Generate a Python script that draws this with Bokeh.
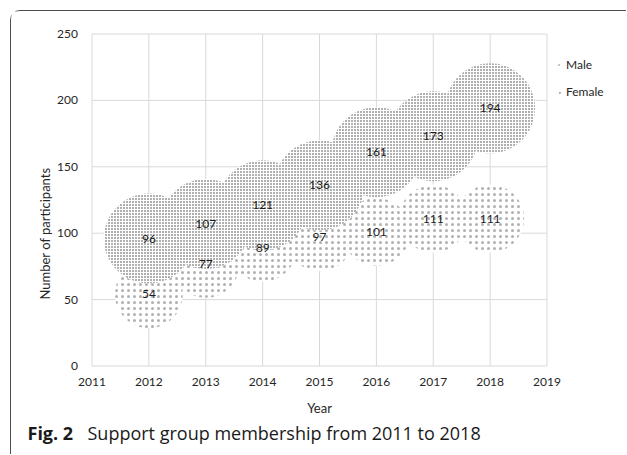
from bokeh.plotting import figure
from bokeh.models import (Range1d, FixedTicker, Legend, LegendItem, Label,
                          ColumnDataSource)
from bokeh.core.properties import value
from bokeh.embed import file_html
from bokeh.resources import INLINE

years = [2012, 2013, 2014, 2015, 2016, 2017, 2018]
male = [54, 77, 89, 97, 101, 111, 111]
female = [96, 107, 121, 136, 161, 173, 194]
x_ticks = [2011, 2012, 2013, 2014, 2015, 2016, 2017, 2018, 2019]
y_ticks = [0, 50, 100, 150, 200, 250]
series_names = ["Male", "Female"]
caption_bold = "Fig. 2"
caption_text = "Support group membership from 2011 to 2018"

FONT = "Lato"
CAP_FONT = "Open Sans"

# --- layout (pixels inside the figure canvas) ---
W, H = 616, 444
PX_LEFT, PX_RIGHT = 80.5, 535.5     # where first / last x tick sit
PY_TOP, PY_BOTTOM = 22.5, 354.5     # where last / first y tick sit
kx = (PX_RIGHT - PX_LEFT) / (x_ticks[-1] - x_ticks[0])
ky = (PY_BOTTOM - PY_TOP) / (y_ticks[-1] - y_ticks[0])
x_start = x_ticks[0] - PX_LEFT / kx
x_end = x_ticks[0] + (W - PX_LEFT) / kx
y_end = y_ticks[-1] + PY_TOP / ky
y_start = y_ticks[0] - (H - PY_BOTTOM) / ky

p = figure(width=W, height=H, output_backend="svg", toolbar_location=None,
           x_range=Range1d(x_start, x_end), y_range=Range1d(y_start, y_end),
           min_border_left=0, min_border_right=0, min_border_top=0,
           min_border_bottom=0)
p.margin = (10, 0, 0, 10)
p.styles = {"border-left": "1px solid #4d4d4d",
            "border-top": "1px solid #4d4d4d",
            "border-top-left-radius": "10px"}
p.outline_line_color = None
p.background_fill_color = "white"
p.border_fill_color = "white"
p.xgrid.visible = False
p.ygrid.visible = False

for ax in (p.xaxis, p.yaxis):
    ax.axis_line_color = None
    ax.major_tick_line_color = None
    ax.minor_tick_line_color = None
    ax.major_label_text_font = FONT
    ax.major_label_text_font_size = "12px"
    ax.major_label_text_color = "#262626"
    ax.axis_label_text_font = FONT
    ax.axis_label_text_font_size = "13px"
    ax.axis_label_text_font_style = "normal"
    ax.axis_label_text_color = "#262626"

p.xaxis.fixed_location = y_ticks[0]
p.yaxis.fixed_location = x_ticks[0]
p.xaxis.ticker = FixedTicker(ticks=x_ticks)
p.yaxis.ticker = FixedTicker(ticks=y_ticks)
p.xaxis.axis_label = "Year"
p.yaxis.axis_label = "Number of participants"
p.xaxis.major_label_standoff = 6
p.yaxis.major_label_standoff = 8
p.xaxis.axis_label_standoff = 10
p.yaxis.axis_label_standoff = 2

# gridlines at the tick values, bounded by the first/last ticks
n_x, n_y = len(x_ticks), len(y_ticks)
p.segment(x0=x_ticks, y0=[y_ticks[0]] * n_x, x1=x_ticks, y1=[y_ticks[-1]] * n_x,
          line_color="#d9d9d9", line_width=1)
p.segment(x0=[x_ticks[0]] * n_y, y0=y_ticks, x1=[x_ticks[-1]] * n_y, y1=y_ticks,
          line_color="#d9d9d9", line_width=1)

src_m = ColumnDataSource(dict(x=years, y=male, t=[str(v) for v in male]))
src_f = ColumnDataSource(dict(x=years, y=female, t=[str(v) for v in female]))

rm = p.scatter("x", "y", source=src_m, marker="circle", size=68,
               fill_color="white", line_color=None,
               hatch_pattern="dot", hatch_scale=6, hatch_weight=0.2,
               hatch_color="#b0b0b0")
rf = p.scatter("x", "y", source=src_f, marker="circle", size=90,
               fill_color="white", line_color=None,
               hatch_pattern="dot", hatch_scale=3, hatch_weight=0.6,
               hatch_color="#383838")

for src in (src_m, src_f):
    p.text("x", "y", text="t", source=src, text_align="center",
           text_baseline="middle", text_font=value(FONT),
           text_font_size="12px", text_color="#1a1a1a")

legend = Legend(items=[LegendItem(label=series_names[0], renderers=[rm]),
                       LegendItem(label=series_names[1], renderers=[rf])],
                location=(544, 355), orientation="vertical",
                glyph_width=8, glyph_height=8, label_height=17,
                label_text_font=FONT,
                label_text_font_size="12px", label_text_color="#262626",
                border_line_color=None, background_fill_alpha=0,
                spacing=10, padding=2, margin=0, label_standoff=3)
p.add_layout(legend, "center")

p.add_layout(Label(x=16, y=23, x_units="screen", y_units="screen",
                   text=caption_bold, text_font=CAP_FONT,
                   text_font_style="bold", text_font_size="18px",
                   text_color="#1a1a1a", text_baseline="middle"))
p.add_layout(Label(x=76, y=23, x_units="screen", y_units="screen",
                   text=caption_text, text_font=CAP_FONT,
                   text_font_size="18px", text_color="#1a1a1a",
                   text_baseline="middle"))

open("out.html", "w").write(file_html(p, INLINE))
